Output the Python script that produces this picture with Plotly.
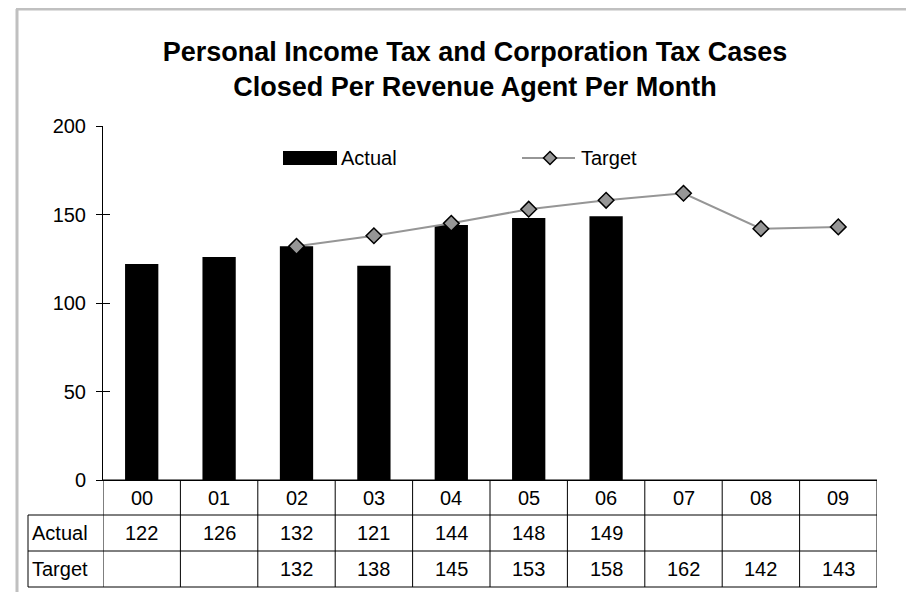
import plotly.graph_objects as go

years = ["00", "01", "02", "03", "04", "05", "06", "07", "08", "09"]
actual = [122, 126, 132, 121, 144, 148, 149, None, None, None]
target = [None, None, 132, 138, 145, 153, 158, 162, 142, 143]

# the page has an 8px body margin, so the figure is drawn 8px smaller and
# everything below is given in window pixels and shifted by OFF
OFF = 8
W, H = 914 - OFF, 592 - OFF
L, R, T, B = 103, 877, 126, 480
FONT = "Liberation Sans, Arial, sans-serif"
GRAY = "#969696"


def px(x):
    return (x - L) / (R - L)


def py(y):
    return (B - y) / (B - T)


fig = go.Figure()
fig.add_trace(go.Bar(x=years, y=actual, name="Actual", marker=dict(color="black", line=dict(width=0)),
                     width=0.43, showlegend=False))
fig.add_trace(go.Scatter(x=years, y=target, name="Target", mode="lines+markers",
                         line=dict(color=GRAY, width=2),
                         marker=dict(symbol="diamond", size=12, color=GRAY,
                                     line=dict(color="black", width=1.5)),
                         showlegend=False))
# dummy trace so the second (tick-only) y axis is drawn
fig.add_trace(go.Scatter(x=[years[0]], y=[None], yaxis="y2", showlegend=False, hoverinfo="skip"))

shapes = []
ann = []

# outer chart border (gray, top and left)
shapes.append(dict(type="line", xref="paper", yref="paper", x0=px(16), x1=px(930), y0=py(9), y1=py(9),
                   line=dict(color="#c0c0c0", width=3)))
shapes.append(dict(type="line", xref="paper", yref="paper", x0=px(17), x1=px(17), y0=py(9), y1=py(610),
                   line=dict(color="#c0c0c0", width=3)))

# data table below the axis
rows_y = [480, 515, 551, 587]
for i, yy in enumerate(rows_y):
    x0 = L if i == 0 else 28
    shapes.append(dict(type="line", xref="paper", yref="paper", x0=px(x0), x1=1, y0=py(yy), y1=py(yy),
                       line=dict(color="black", width=1)))
shapes.append(dict(type="line", xref="paper", yref="paper", x0=px(28), x1=px(28), y0=py(515), y1=py(587),
                   line=dict(color="black", width=1)))
for k in range(len(years) + 1):
    shapes.append(dict(type="line", xref="x", yref="paper", x0=k - 0.5, x1=k - 0.5, y0=py(480), y1=py(587),
                       line=dict(color="black", width=1)))

row_mid = [(480 + 515) / 2, (515 + 551) / 2, (551 + 587) / 2]
tfont = dict(size=20, color="black")
for k, yr in enumerate(years):
    ann.append(dict(x=yr, y=py(row_mid[0]), xref="x", yref="paper", text=yr, showarrow=False,
                    yanchor="middle", font=tfont))
    for vals, ym in ((actual, row_mid[1]), (target, row_mid[2])):
        if vals[k] is not None:
            ann.append(dict(x=yr, y=py(ym), xref="x", yref="paper", text=str(vals[k]), showarrow=False,
                            yanchor="middle", font=tfont))
for label, ym in (("Actual", row_mid[1]), ("Target", row_mid[2])):
    ann.append(dict(x=px(30), y=py(ym), xref="paper", yref="paper", text=label, showarrow=False,
                    xanchor="left", yanchor="middle", font=tfont))

# legend
LY = 158
shapes.append(dict(type="rect", xref="paper", yref="paper", x0=px(283), x1=px(337), y0=py(151), y1=py(165),
                   fillcolor="black", line=dict(width=0)))
ann.append(dict(x=px(339), y=py(LY), xref="paper", yref="paper", text="Actual", showarrow=False,
                xanchor="left", yanchor="middle", font=tfont))
shapes.append(dict(type="line", xref="paper", yref="paper", x0=px(522), x1=px(575), y0=py(LY), y1=py(LY),
                   line=dict(color=GRAY, width=2)))
cx, d = 550, 6.5
path = (f"M {px(cx - d)} {py(LY)} L {px(cx)} {py(LY - d)} L {px(cx + d)} {py(LY)} "
        f"L {px(cx)} {py(LY + d)} Z")
shapes.append(dict(type="path", xref="paper", yref="paper", path=path, fillcolor=GRAY,
                   line=dict(color="black", width=1.5)))
ann.append(dict(x=px(579), y=py(LY), xref="paper", yref="paper", text="Target", showarrow=False,
                xanchor="left", yanchor="middle", font=tfont))

fig.update_layout(
    width=W, height=H,
    margin=dict(l=L - OFF, r=W - (R - OFF), t=T - OFF, b=H - (B - OFF)),
    paper_bgcolor="white", plot_bgcolor="white",
    font=dict(family=FONT, size=20, color="black"),
    title=dict(text="<b>Personal Income Tax and Corporation Tax Cases<br>Closed Per Revenue Agent Per Month</b>",
               x=(475 - OFF) / W, xanchor="center", y=1 - (61 - OFF) / H, yanchor="middle",
               font=dict(size=27, family=FONT, color="black")),
    xaxis=dict(showticklabels=False, ticks="", showgrid=False, showline=True, linecolor="black",
               linewidth=1, range=[-0.5, 9.5], zeroline=False),
    yaxis=dict(range=[0, 200], tickvals=[0, 50, 100, 150, 200], ticks="outside", ticklen=6,
               tickcolor="black", showline=True, linecolor="black", linewidth=1, showgrid=False,
               zeroline=False, ticklabelstandoff=6, tickfont=dict(size=20)),
    yaxis2=dict(range=[0, 200], tickvals=[0, 50, 100, 150, 200], ticks="inside", ticklen=7,
                tickcolor="black", overlaying="y", side="left", showticklabels=False,
                showgrid=False, zeroline=False, showline=False),
    shapes=shapes,
    annotations=ann,
)

fig.write_html("out.html")
